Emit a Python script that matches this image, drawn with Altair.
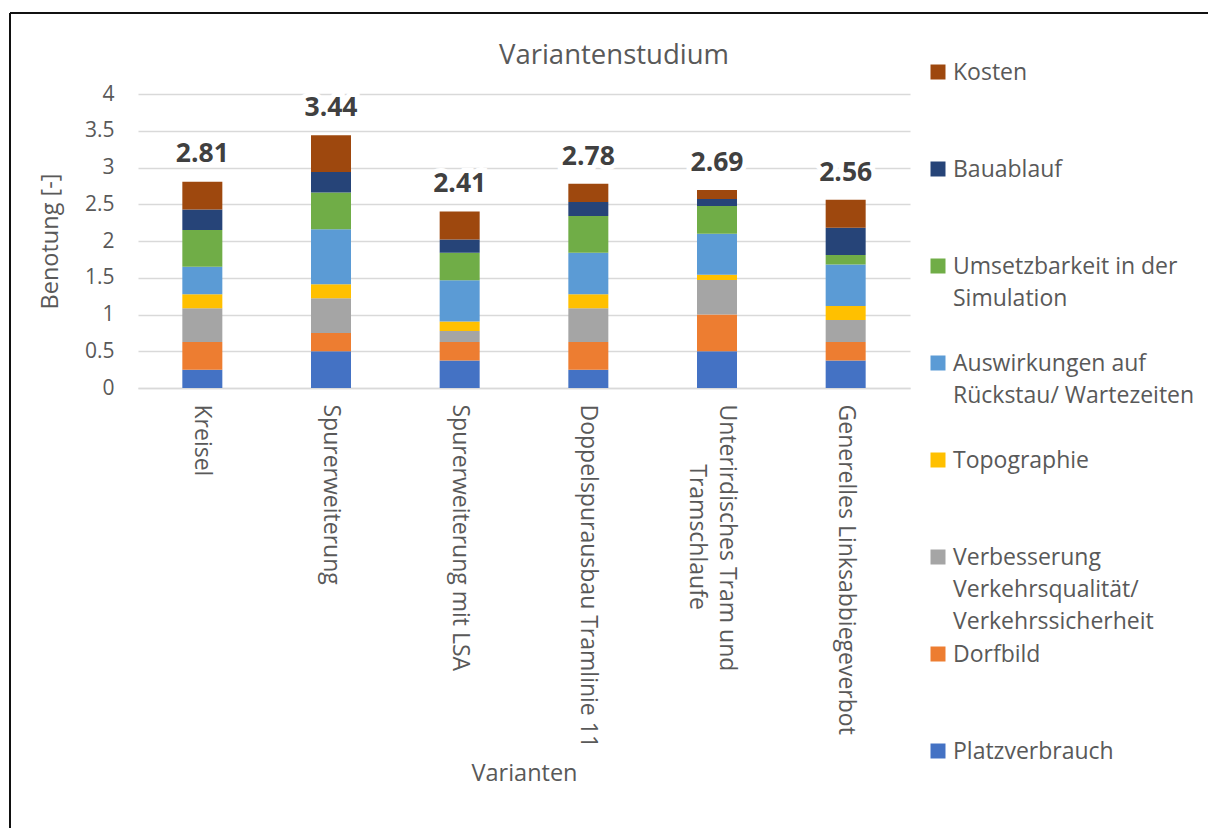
import altair as alt
import pandas as pd

PAD = "\u200b" + "\u00a0" * 10
categories = [
    "Kreisel",
    "Spurerweiterung",
    "Spurerweiterung mit LSA",
    "Doppelspurausbau Tramlinie 11",
    "Unterirdisches Tram und\n" + PAD + "Tramschlaufe",
    "Generelles Linksabbiegeverbot",
]
# stacking order: bottom -> top
series = [
    "Platzverbrauch",
    "Dorfbild",
    "Verbesserung Verkehrsqualität/ Verkehrssicherheit",
    "Topographie",
    "Auswirkungen auf Rückstau/ Wartezeiten",
    "Umsetzbarkeit in der Simulation",
    "Bauablauf",
    "Kosten",
]
legend_labels = [
    "Platzverbrauch",
    "Dorfbild",
    "Verbesserung\nVerkehrsqualität/\nVerkehrssicherheit",
    "Topographie",
    "Auswirkungen auf\nRückstau/ Wartezeiten",
    "Umsetzbarkeit in der\nSimulation",
    "Bauablauf",
    "Kosten",
]
colors = ["#4472C4", "#ED7D31", "#A5A5A5", "#FFC000", "#5B9BD5", "#70AD47", "#264478", "#9E480E"]

platzverbrauch = [0.25, 0.50, 0.375, 0.25, 0.50, 0.375]
dorfbild = [0.375, 0.25, 0.25, 0.375, 0.50, 0.25]
verbesserung = [0.46, 0.47, 0.15, 0.46, 0.47, 0.30]
topographie = [0.19, 0.19, 0.13, 0.19, 0.07, 0.19]
auswirkungen = [0.375, 0.75, 0.56, 0.565, 0.56, 0.565]
umsetzbarkeit = [0.50, 0.50, 0.375, 0.50, 0.375, 0.13]
bauablauf = [0.28, 0.28, 0.18, 0.19, 0.095, 0.37]
kosten = [0.375, 0.50, 0.38, 0.25, 0.125, 0.38]
totals = [2.81, 3.44, 2.41, 2.78, 2.69, 2.56]

values = [platzverbrauch, dorfbild, verbesserung, topographie, auswirkungen, umsetzbarkeit, bauablauf, kosten]

rows = []
for si, (s, vals) in enumerate(zip(series, values)):
    for c, v in zip(categories, vals):
        rows.append({"Variante": c, "Kriterium": s, "Wert": v, "ordnung": si})
df = pd.DataFrame(rows)

tot_df = pd.DataFrame({"Variante": categories, "Wert": totals,
                       "Label": [f"{t:.2f}" for t in totals]})

FONT = "Open Sans"
GREY = "#595959"

x_axis = alt.Axis(
    title="Varianten",
    labelAngle=90,
    labelAlign="left",
    labelBaseline="middle",
    labelPadding=16,
    labelLimit=500,
    labelFontSize=23,
    labelColor=GREY,
    labelLineHeight=30,
    labelExpr="split(datum.label, '\\n')",
    labelOffset={"condition": {"test": "indexof(datum.label, 'Unterirdisches') >= 0", "value": 10},
                 "value": 0},
    ticks=False,
    domainColor="#d9d9d9",
    domainWidth=1.3,
    titleFontSize=23.5,
    titleFontWeight="normal",
    titleColor=GREY,
    titleBaseline="middle",
    titleY=385,
)
y_axis = alt.Axis(
    values=[0, 0.5, 1, 1.5, 2, 2.5, 3, 3.5, 4],
    format="~g",
    labelOverlap=False,
    title="Benotung [-]",
    ticks=False,
    domain=False,
    gridColor="#d9d9d9",
    gridWidth=1.3,
    labelPadding=24,
    labelFontSize=21,
    labelColor=GREY,
    titleFontSize=23.5,
    titleFontWeight="normal",
    titleColor=GREY,
    titlePadding=22,
)
x_scale = alt.Scale(paddingInner=0, paddingOuter=0)
y_scale = alt.Scale(domain=[0, 4], nice=False)

x_enc = alt.X("Variante:N", sort=categories, scale=x_scale, axis=x_axis)

bars = alt.Chart(df).mark_bar(size=40).encode(
    x=x_enc,
    y=alt.Y("Wert:Q", stack="zero", scale=y_scale, axis=y_axis),
    color=alt.Color("Kriterium:N", scale=alt.Scale(domain=series, range=colors), legend=None),
    order=alt.Order("ordnung:Q", sort="ascending"),
)

y_tot = alt.Y("Wert:Q", scale=y_scale, axis=y_axis)

halo = alt.Chart(tot_df).mark_text(
    dy=-27, fontSize=26.5, fontWeight="bold", color="white", stroke="white", strokeWidth=10
).encode(x=x_enc, y=y_tot, text="Label:N")

labels = alt.Chart(tot_df).mark_text(
    dy=-27, fontSize=26.5, fontWeight="bold", color="#404040"
).encode(x=x_enc, y=y_tot, text="Label:N")

one = pd.DataFrame({"t": ["Variantenstudium"]})
title = alt.Chart(one).mark_text(fontSize=27.5, color=GREY, baseline="middle").encode(
    text="t:N", x=alt.value(476), y=alt.value(-38)
)
frame_h = alt.Chart(one).mark_rule(color="#111111", strokeWidth=2).encode(
    x=alt.value(-128), x2=alt.value(1070), y=alt.value(-81)
)
frame_v = alt.Chart(one).mark_rule(color="#111111", strokeWidth=2).encode(
    x=alt.value(-128), y=alt.value(-81), y2=alt.value(734)
)

main = alt.layer(bars, halo, labels, title, frame_h, frame_v).properties(width=772, height=294)

leg_df = pd.DataFrame({"Kriterium": series, "Text": legend_labels})
leg_order = list(reversed(series))
leg_y = alt.Y("Kriterium:N", sort=leg_order,
              scale=alt.Scale(type="point", padding=0, range=[-22, 657]), axis=None)
leg_sym = alt.Chart(leg_df).mark_square(size=225, opacity=1).encode(
    y=leg_y, x=alt.value(18),
    color=alt.Color("Kriterium:N", scale=alt.Scale(domain=series, range=colors), legend=None),
)
leg_txt = alt.Chart(leg_df).mark_text(
    align="left", baseline="alphabetic", dy=8, fontSize=23, color=GREY, lineBreak="\n", lineHeight=32
).encode(y=leg_y, x=alt.value(33), text="Text:N")
legend = alt.layer(leg_sym, leg_txt).properties(width=270, height=294)

chart = alt.hconcat(main, legend, spacing=10, bounds="flush").properties(
    padding={"left": 9, "top": 12, "right": 0, "bottom": 0}
).configure(font=FONT).configure_view(strokeWidth=0)

chart.save("out.html", embed_options={"renderer": "svg", "actions": False})
